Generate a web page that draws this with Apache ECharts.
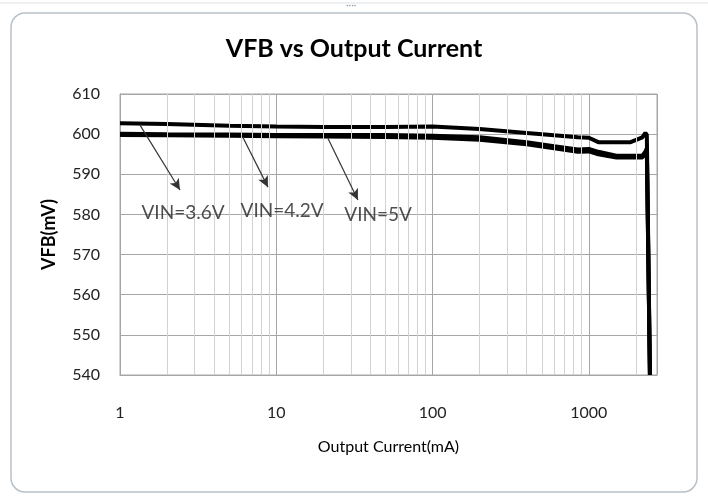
<!DOCTYPE html>
<html>
<head>
<meta charset="utf-8">
<script src="https://cdn.jsdelivr.net/npm/echarts@6/dist/echarts.min.js"></script>
<style>
  html, body { margin: 0; padding: 0; background: #fff; }
  #chart { width: 708px; height: 498px; }
</style>
</head>
<body>
<div id="chart"></div>
<script>
// output current (mA), log axis
const currentMA = [1, 2, 5, 10, 20, 50, 100, 200, 400, 600, 850, 1000, 1150, 1500, 1850, 2200, 2300, 2350, 2460];
const vin36 = [602.7, 602.5, 602.1, 601.9, 601.8, 601.8, 601.9, 601.3, 600.3, 599.7, 599.2, 599.1, 598.0, 598.0, 598.0, 599.2, 600.3, 599.8, 540];
const vin42 = [600.1, 600.0, 599.9, 599.8, 599.8, 599.8, 599.6, 599.2, 598.0, 597.0, 596.2, 596.3, 595.6, 594.6, 594.6, 594.6, 595.6, 596.5, 540];
const vin50 = [599.8, 599.7, 599.6, 599.5, 599.4, 599.3, 599.1, 598.6, 597.5, 596.5, 595.6, 595.7, 595.0, 594.2, 594.2, 594.2, 595.0, 595.8, 540];

// minor log gridlines
const minorGrid = [2, 3, 4, 5, 6, 7, 8, 9, 20, 30, 40, 50, 60, 70, 80, 90, 200, 300, 400, 500, 600, 700, 800, 900, 2000];
const xLabels = [1, 10, 100, 1000];

// annotation arrows [fromX, fromY, toX, toY] and label positions
const arrows = [
  [1.34, 602.3, 2.42, 586.1],
  [6.1, 599.3, 8.85, 586.8],
  [21.4, 599.0, 33.3, 583.6]
];
const labelNames = ['VIN=3.6V', 'VIN=4.2V', 'VIN=5V'];
const labelPos = [[2.53, 580.4], [10.9, 580.9], [44.8, 579.9]];

const yTicks = { min: 540, max: 610, interval: 10 };

const chart = echarts.init(document.getElementById('chart'));

function pair(xs, ys) { return xs.map((x, i) => [x, ys[i]]); }

const lineBase = {
  type: 'line', symbol: 'none', smooth: false, z: 3,
  lineStyle: { color: '#000', width: 4 }, itemStyle: { color: '#000' },
  animation: false
};

const option = {
  backgroundColor: '#fff',
  animation: false,
  title: {
    text: 'VFB vs Output Current',
    left: 'center', top: 31,
    textStyle: { fontFamily: 'Lato', fontWeight: 'bold', fontSize: 25, color: '#000' }
  },
  grid: {
    left: 120, right: 51, top: 94, bottom: 123,
    show: true, borderColor: '#a6a6a6', borderWidth: 1
  },
  xAxis: {
    type: 'log', logBase: 10, min: 1, max: 2730,
    name: 'Output Current(mA)', nameLocation: 'middle', nameGap: 64,
    nameTextStyle: { fontFamily: 'Lato', fontSize: 16, color: '#000' },
    axisLine: { show: true, lineStyle: { color: '#a6a6a6' } },
    axisTick: { show: false },
    axisLabel: {
      margin: 30, fontFamily: 'Lato', fontSize: 16, color: '#222',
      showMaxLabel: false,
      formatter: v => (xLabels.includes(Math.round(v)) ? String(Math.round(v)) : '')
    },
    splitLine: { show: true, lineStyle: { color: '#a6a6a6', width: 1 } }
  },
  yAxis: {
    type: 'value', min: yTicks.min, max: yTicks.max, interval: yTicks.interval,
    name: 'VFB(mV)', nameLocation: 'middle', nameGap: 62,
    nameTextStyle: { fontFamily: 'Lato', fontWeight: 'bold', fontSize: 18, color: '#000' },
    axisLine: { show: true, lineStyle: { color: '#a6a6a6' } },
    axisTick: { show: false },
    axisLabel: { margin: 20, fontFamily: 'Lato', fontSize: 16, color: '#222' },
    splitLine: { show: true, lineStyle: { color: '#a6a6a6', width: 1 } }
  },
  graphic: [
    { type: 'line', silent: true, shape: { x1: 0, y1: 3, x2: 708, y2: 3 }, style: { stroke: '#dde2e6', lineWidth: 1 } },
    { type: 'text', silent: true, x: 346, y: 0, style: { text: '····', fill: '#8a96a0', font: '10px Lato' } },
    {
      type: 'rect', silent: true, z: -1,
      shape: { x: 11, y: 13, width: 686, height: 479, r: 14 },
      style: { fill: 'none', stroke: '#b9c1c8', lineWidth: 1.5 }
    }
  ],
  series: [
    {
      type: 'line', data: [[1, 540]], symbol: 'none', z: 1, silent: true,
      lineStyle: { opacity: 0 },
      markLine: {
        silent: true, symbol: ['none', 'none'], animation: false,
        label: { show: false },
        lineStyle: { type: 'solid', color: '#d2d2d2', width: 1 },
        emphasis: { disabled: true },
        data: minorGrid.map(v => ({ xAxis: v }))
      }
    },
    Object.assign({ name: 'VIN=3.6V', data: pair(currentMA, vin36) }, lineBase),
    Object.assign({ name: 'VIN=4.2V', data: pair(currentMA, vin42) }, lineBase),
    Object.assign({ name: 'VIN=5V', data: pair(currentMA, vin50) }, lineBase),
    {
      type: 'scatter', z: 5, silent: true,
      symbolSize: 1, itemStyle: { color: 'transparent' },
      label: {
        show: true, position: 'inside', formatter: p => p.name,
        fontFamily: 'Lato', fontSize: 19, color: '#222'
      },
      data: labelNames.map((n, i) => ({ name: n, value: labelPos[i] })),
      markLine: {
        silent: true, animation: false,
        symbol: ['none', 'arrow'], symbolSize: [8, 11],
        label: { show: false },
        lineStyle: { type: 'solid', color: '#333', width: 1.2 },
        emphasis: { disabled: true },
        data: arrows.map(a => [{ coord: [a[0], a[1]] }, { coord: [a[2], a[3]] }])
      }
    }
  ]
};

chart.setOption(option);
</script>
</body>
</html>
